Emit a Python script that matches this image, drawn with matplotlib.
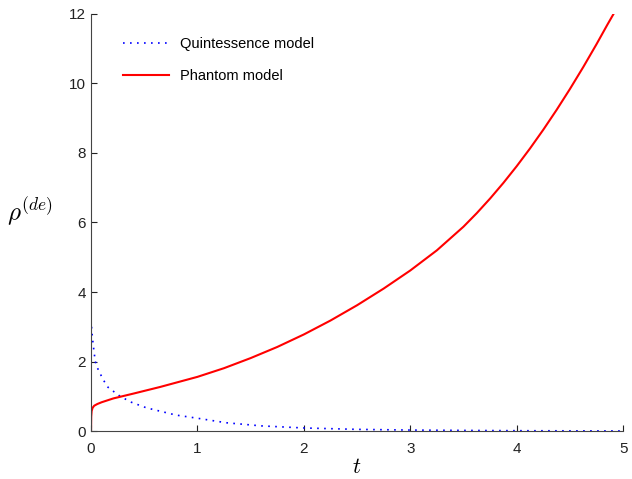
import matplotlib
matplotlib.use('Agg')
import matplotlib.pyplot as plt

plt.rcParams['font.family'] = ['Liberation Sans', 'DejaVu Sans']
plt.rcParams['mathtext.fontset'] = 'cm'

# phantom model
t_phantom = [0, 0.002, 0.006, 0.015, 0.03, 0.06, 0.1, 0.21, 0.4, 0.65, 1.0, 1.25, 1.5, 1.75,
             2.0, 2.25, 2.5, 2.75, 3.0, 3.25, 3.5, 3.625, 3.75, 3.875, 4.0, 4.125, 4.25,
             4.375, 4.5, 4.625, 4.75, 4.85, 4.91]
rho_phantom = [0, 0.42, 0.58, 0.67, 0.73, 0.78, 0.83, 0.94, 1.08, 1.27, 1.56, 1.81, 2.10, 2.42,
               2.78, 3.18, 3.62, 4.1, 4.62, 5.20, 5.88, 6.27, 6.69, 7.14, 7.62, 8.13, 8.67,
               9.24, 9.84, 10.47, 11.13, 11.68, 12.0]

# quintessence model
t_quint = [0, 0.005, 0.01, 0.02, 0.04, 0.06, 0.085, 0.116, 0.16, 0.26, 0.37, 0.52, 0.8,
           1.0, 1.27, 1.6, 2.0, 2.5, 3.0, 3.5, 4.0, 4.5, 5.0]
rho_quint = [3.2, 3.0, 2.8, 2.5, 2.0, 1.82, 1.66, 1.47, 1.26, 1.03, 0.84, 0.67, 0.46,
             0.37, 0.24, 0.15, 0.09, 0.05, 0.03, 0.02, 0.012, 0.008, 0.005]

xticks = [0, 1, 2, 3, 4, 5]
yticks = [0, 2, 4, 6, 8, 10, 12]

fig = plt.figure(figsize=(6.32, 4.79), dpi=100)
ax = fig.add_axes([0.144, 0.100, 0.842, 0.871])

ax.plot(t_quint, rho_quint, color='blue', lw=1.2, linestyle=(0, (1, 3.2)),
        label='Quintessence model')
ax.plot(t_phantom, rho_phantom, '-', color='red', lw=1.5, label='Phantom model')

ax.set_xlim(0, 5)
ax.set_ylim(0, 12)
ax.set_xticks(xticks)
ax.set_yticks(yticks)
ax.tick_params(direction='in', length=4, labelsize=11, colors='#222222')
ax.tick_params(axis='x', pad=8)
for s in ['top', 'right']:
    ax.spines[s].set_visible(False)
for s in ['left', 'bottom']:
    ax.spines[s].set_color('#444444')

ax.set_xlabel(r'$t$', fontsize=16)
ax.xaxis.set_label_coords(0.5, -0.063)
ax.set_ylabel(r'$\rho^{(de)}$', fontsize=18, rotation=0, ha='center', va='center')
ax.yaxis.set_label_coords(-0.115, 0.525)

leg = ax.legend(loc='upper left', frameon=False, fontsize=10.5, handlelength=3.2,
                handletextpad=0.7, labelspacing=1.2, bbox_to_anchor=(0.035, 0.975))

fig.savefig('out.png', dpi=100)
